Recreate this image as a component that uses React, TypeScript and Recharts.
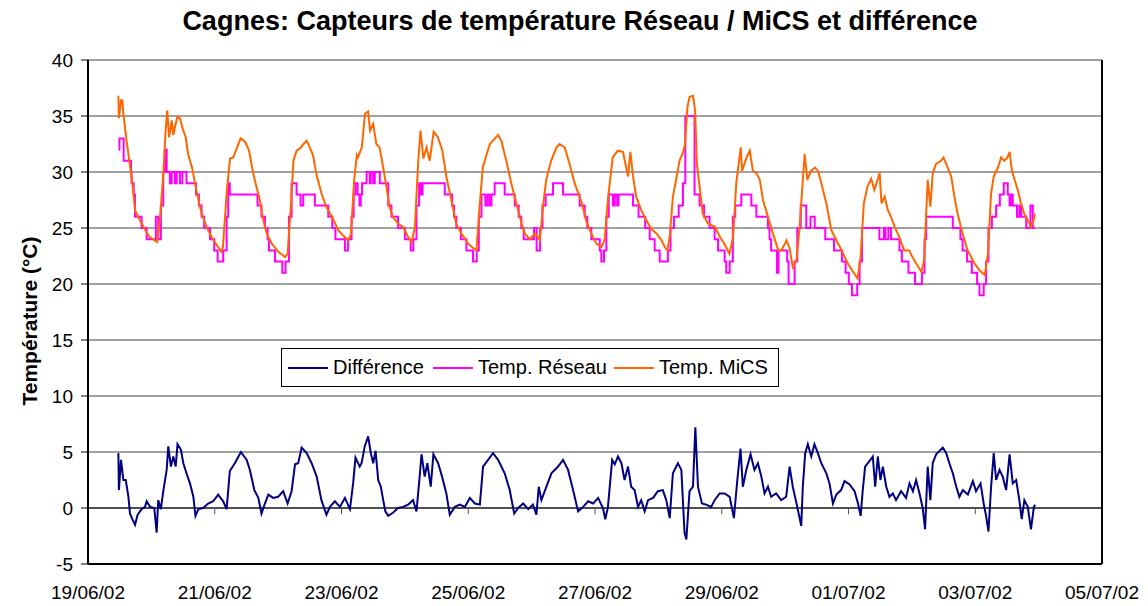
import React from 'react';
import { LineChart, Line, XAxis, YAxis, CartesianGrid, ReferenceLine } from 'recharts';

const xTickLabels = ['19/06/02', '21/06/02', '23/06/02', '25/06/02', '27/06/02', '29/06/02', '01/07/02', '03/07/02', '05/07/02'];
const yTicks = [-5, 0, 5, 10, 15, 20, 25, 30, 35, 40];

// [hours since 19/06/02 00:00, value]
const diffPts: [number, number][] = [
  [11.5, 4.9], [11.7, 1.6], [12.5, 4.3], [13.4, 2.5], [14.3, 2.5], [15.3, 1.0], [15.9, -0.5], [16.8, -1.0], [17.8, -1.5], [18.8, -0.6],
  [20.3, -0.1], [21.6, 0.1], [22.2, 0.6], [23.5, 0.1], [25.1, 0], [26.0, -2.2], [26.6, 0.7], [27.6, -0.1], [28.5, 1.5], [29.8, 3.4],
  [30.4, 5.5], [31.4, 3.7], [32.3, 4.6], [33.2, 3.7], [33.9, 5.7], [35.2, 5.2], [36.1, 4.0], [37.3, 3.1], [38.6, 2.2], [39.9, 1.0],
  [40.7, -0.7], [41.8, -0.1], [43.6, 0], [45.5, 0.4], [47.4, 0.6], [49.3, 1.2], [51.2, 0.6], [52.5, -0.1], [53.7, 3.3], [55.6, 4.0],
  [57.9, 5.0], [60.1, 4.3], [61.3, 3.4], [63.0, 1.6], [64.5, 0.9], [65.7, -0.5], [67.0, 0.4], [68.3, 1.2], [70.1, 0.9], [72.0, 1.0],
  [73.9, 1.5], [75.6, 0.4], [77.1, 1.5], [78.4, 3.9], [79.6, 4.0], [80.9, 5.4], [82.8, 4.9], [84.7, 4.0], [86.6, 2.8], [88.4, 0.7],
  [90.3, -0.6], [91.6, 0.1], [93.5, 0.6], [95.4, 0.1], [97.3, 0.9], [99.2, -0.1], [100.4, 2.2], [101.3, 4.5], [102.9, 3.7], [103.6, 4.0],
  [104.8, 5.5], [106.1, 6.4], [107.1, 4.9], [108.0, 4.0], [108.9, 5.1], [109.9, 2.5], [110.9, 1.9], [111.8, 0.7], [112.6, -0.3], [113.7, -0.7],
  [115.6, -0.4], [117.4, 0], [119.3, 0.1], [121.2, 0.3], [123.1, 0.7], [124.4, -0.3], [125.6, 2.8], [126.3, 4.8], [127.5, 2.8], [128.5, 4.0],
  [129.8, 1.9], [130.8, 4.8], [132.6, 4.0], [134.1, 2.8], [135.7, 1.3], [137.0, -0.6], [138.9, 0.1], [140.8, 0.3], [142.7, 0.1], [144.6, 0.9],
  [146.5, 0.4], [148.4, 0.3], [149.6, 3.7], [151.5, 4.3], [153.4, 4.9], [155.3, 4.3], [157.8, 3.1], [159.7, 1.6], [161.4, -0.5], [162.9, 0],
  [164.8, 0.4], [166.7, -0.1], [168.5, 0.3], [169.8, -0.6], [170.7, 1.9], [171.7, 0.7], [173.6, 1.9], [175.5, 3.1], [178.0, 3.7], [179.9, 4.3],
  [181.8, 3.4], [183.7, 1.6], [185.6, -0.3], [187.5, 0.1], [189.4, 0.6], [191.3, 0.4], [193.2, 0.9], [195.0, 0], [195.9, -1.0], [196.9, 0.1],
  [198.5, 4.3], [199.5, 3.9], [200.7, 4.6], [202.0, 4.0], [203.2, 2.5], [204.5, 3.7], [205.7, 1.9], [207.0, 1.6], [208.3, 0.1], [209.5, 0.7],
  [210.8, -0.3], [212.1, 0.7], [214.0, 0.9], [215.8, 1.5], [217.7, 1.6], [219.0, 0.7], [220.3, -0.9], [221.5, 3.1], [223.4, 4.0], [224.7, 3.4],
  [225.9, -2.2], [226.6, -2.8], [227.8, 1.5], [229.1, 1.9], [230.0, 7.2], [231.0, 1.9], [232.5, 0.4], [234.1, 0.3], [236.0, 0.1], [237.3, 0.7],
  [239.2, 1.3], [241.1, 1.3], [243.0, 1.0], [244.6, -0.9], [245.9, 2.5], [247.1, 5.3], [248.0, 1.9], [249.3, 3.4], [250.9, 4.8], [252.4, 3.4],
  [253.7, 4.0], [255.0, 2.8], [256.2, 1.3], [257.5, 1.9], [258.7, 1.0], [260.6, 1.3], [262.5, 0.7], [264.4, 1.0], [265.7, 3.7], [266.9, 1.9],
  [268.6, 0.1], [270.1, -1.6], [270.7, 1.9], [271.6, 4.9], [272.6, 5.7], [273.9, 4.6], [275.1, 5.7], [276.4, 4.9], [277.7, 4.0], [279.6, 3.1],
  [280.8, 2.2], [282.1, 0.4], [283.4, 1.2], [285.2, 1.6], [286.5, 2.4], [288.4, 2.1], [290.3, 1.5], [291.6, 0.4], [292.6, -0.7], [293.4, 1.6],
  [294.3, 3.7], [296.0, 4.2], [297.2, 4.6], [298.1, 1.9], [299.1, 4.6], [300.1, 2.5], [301.0, 3.7], [302.3, 1.9], [303.5, 1.0], [304.8, 1.3],
  [306.0, 0.7], [307.9, 1.5], [309.8, 0.9], [311.1, 2.2], [312.4, 1.5], [313.6, 2.5], [314.9, 1.3], [316.1, 0], [317.0, -1.9], [318.0, 3.7],
  [319.0, 0.7], [319.9, 4.0], [321.2, 4.8], [323.7, 5.4], [325.0, 4.9], [326.2, 4.0], [327.5, 3.1], [328.8, 1.9], [330.0, 1.0], [331.3, 1.6],
  [333.2, 1.2], [335.1, 2.4], [336.3, 1.5], [338.0, 2.2], [339.2, 0.4], [340.1, -0.7], [341.0, -2.1], [342.0, 1.9], [343.0, 4.9], [343.9, 2.5],
  [345.2, 3.4], [346.4, 2.8], [347.7, 1.6], [349.0, 4.8], [350.2, 2.2], [351.5, 2.5], [352.7, 0.7], [353.6, -1.0], [354.6, 0.7], [355.9, 0.1],
  [357.1, -1.9], [358.2, 0.1], [358.7, 0.3],
];

const reseauPts: [number, number][] = [
  [11.5, 32], [11.9, 33], [13.5, 31], [16.3, 30], [16.5, 29], [17.3, 28], [17.8, 26], [20.3, 25], [22.2, 24], [25.7, 26],
  [26.6, 24], [27.6, 27], [28.5, 30], [29.1, 32], [29.8, 30], [31.0, 29], [31.7, 30], [32.9, 29], [33.6, 30], [34.8, 29],
  [35.7, 30], [37.3, 29], [40.9, 28], [42.0, 27], [43.0, 26], [44.0, 25], [46.2, 24], [47.8, 23], [49.1, 22], [51.2, 23],
  [52.5, 26], [53.1, 29], [53.7, 28], [64.2, 27], [65.7, 26], [67.0, 25], [68.0, 24], [68.5, 23], [70.8, 22], [73.6, 21],
  [74.8, 22], [76.1, 26], [77.1, 29], [79.0, 28], [80.5, 27], [81.5, 28], [85.9, 27], [91.0, 26], [92.5, 25], [93.7, 24],
  [97.3, 23], [98.5, 24], [99.8, 26], [100.6, 28], [101.3, 29], [102.1, 28], [102.8, 27], [103.3, 28], [103.8, 29], [105.5, 30],
  [106.7, 29], [107.1, 30], [108.0, 29], [108.6, 30], [110.5, 29], [113.7, 27], [114.9, 26], [117.4, 25], [120.0, 24], [122.2, 23],
  [123.2, 24], [124.4, 27], [125.4, 29], [126.0, 28], [126.7, 29], [135.1, 28], [137.9, 27], [138.6, 26], [139.5, 25], [141.2, 24],
  [143.3, 23], [145.8, 22], [147.2, 23], [148.0, 26], [149.0, 28], [150.5, 27], [151.3, 28], [152.1, 27], [152.8, 28], [154.0, 29],
  [157.8, 28], [161.6, 27], [163.1, 26], [164.1, 25], [165.0, 24], [168.9, 25], [169.9, 23], [171.2, 25], [172.1, 27], [173.3, 28],
  [176.1, 29], [179.9, 28], [186.2, 27], [188.1, 26], [189.1, 25], [190.6, 24], [193.8, 23], [194.4, 22], [195.4, 23], [196.3, 26],
  [197.2, 28], [198.8, 27], [199.5, 28], [200.4, 27], [200.9, 28], [206.4, 27], [208.5, 26], [211.0, 25], [212.7, 24], [214.6, 23],
  [216.5, 22], [219.6, 23], [220.6, 25], [221.9, 26], [223.7, 27], [225.3, 29], [226.2, 35], [229.7, 28], [231.6, 27], [233.3, 26],
  [235.4, 25], [237.3, 24], [238.6, 23], [241.1, 22], [241.7, 21], [243.0, 22], [244.2, 26], [245.1, 27], [247.4, 28], [251.2, 27],
  [253.1, 26], [257.5, 25], [258.1, 24], [258.7, 23], [260.9, 21], [261.5, 23], [264.8, 22], [265.3, 20], [267.6, 22], [268.6, 25],
  [269.9, 27], [272.0, 25], [273.6, 26], [275.2, 25], [279.2, 24], [282.5, 23], [285.5, 22], [286.9, 21], [288.1, 20], [289.3, 19],
  [291.3, 20], [292.2, 22], [293.1, 25], [299.7, 24], [301.4, 25], [302.0, 24], [303.1, 25], [304.1, 24], [307.3, 23], [308.2, 22],
  [310.7, 21], [313.2, 20], [315.8, 21], [316.8, 24], [317.4, 26], [327.5, 25], [330.4, 24], [331.2, 23], [332.9, 22], [334.7, 21],
  [336.7, 20], [337.6, 19], [339.2, 20], [340.1, 22], [341.0, 25], [342.3, 26], [343.9, 27], [345.3, 28], [346.8, 29], [348.3, 28],
  [349.0, 27], [349.6, 28], [350.2, 27], [351.8, 26], [352.7, 27], [353.4, 26], [355.3, 25], [356.9, 27], [357.8, 25], [358.6, 25],
];

const micsPts: [number, number][] = [
  [11.5, 36.8], [11.7, 34.8], [12.5, 36.4], [13.0, 36.4], [13.4, 35.2], [14.6, 32.8], [15.8, 30.7], [16.8, 29.0], [17.8, 26.6], [19.0, 26.0],
  [20.3, 25.4], [22.2, 24.6], [23.4, 24.2], [25.3, 23.9], [26.2, 23.75], [27.2, 25.7], [28.6, 30.1], [29.4, 33.7], [30.0, 35.5], [30.7, 33.1],
  [31.7, 34.6], [32.3, 33.3], [32.9, 34.0], [33.8, 34.9], [34.8, 34.8], [35.8, 33.9], [37.0, 33.1], [37.9, 31.6], [39.5, 30.3], [41.0, 28.4],
  [43.0, 26.3], [44.9, 25.1], [46.8, 24.2], [48.7, 23.5], [50.4, 22.9], [51.1, 23.3], [52.6, 28.4], [53.8, 31.2], [55.0, 31.3], [56.3, 32.1],
  [57.8, 33.0], [59.5, 32.7], [61.0, 31.9], [61.9, 30.7], [63.1, 29.3], [64.8, 27.8], [66.4, 25.7], [67.7, 24.5], [69.6, 23.6], [72.0, 22.9],
  [74.6, 22.4], [75.6, 22.7], [76.8, 26.9], [77.8, 31.0], [79.0, 31.9], [80.2, 32.1], [81.6, 32.5], [82.8, 32.8], [84.0, 32.2], [85.2, 31.5],
  [86.6, 29.7], [88.4, 28.1], [90.2, 26.9], [92.4, 26.0], [94.8, 24.8], [96.7, 24.3], [98.6, 23.9], [99.6, 24.5], [100.8, 29.3], [101.8, 31.5],
  [102.2, 31.3], [103.7, 32.2], [104.9, 35.2], [106.1, 35.4], [106.8, 33.7], [108.0, 34.3], [109.2, 32.5], [110.4, 32.2], [111.8, 30.4], [113.0, 28.7],
  [114.2, 26.9], [115.4, 26.0], [117.4, 25.4], [119.3, 25.1], [121.2, 24.2], [122.6, 23.75], [123.8, 25.1], [125.0, 30.7], [125.9, 33.7], [127.0, 31.2],
  [128.2, 32.2], [129.4, 31.0], [130.9, 33.6], [132.5, 33.1], [134.2, 31.9], [135.7, 29.6], [137.6, 27.5], [139.4, 25.4], [141.4, 24.5], [144.0, 23.6],
  [145.9, 23.2], [147.1, 23.0], [148.3, 26.9], [149.5, 30.4], [151.0, 31.6], [152.2, 32.5], [154.1, 33.0], [155.3, 33.3], [156.5, 32.8], [158.4, 31.0],
  [160.3, 29.0], [162.2, 27.2], [164.2, 25.4], [165.4, 24.5], [167.3, 24.0], [169.2, 24.5], [170.4, 24.2], [171.1, 23.9], [172.3, 26.9], [173.5, 29.3],
  [175.4, 31.0], [177.4, 32.2], [178.6, 32.5], [180.5, 32.2], [182.4, 30.7], [184.3, 29.0], [187.0, 27.2], [188.6, 25.7], [190.6, 24.5], [192.5, 23.6],
  [194.4, 23.3], [195.6, 23.9], [197.0, 27.8], [198.7, 31.3], [200.6, 31.9], [202.6, 31.8], [203.8, 30.4], [204.5, 29.6], [205.4, 31.8], [206.4, 29.6],
  [207.6, 27.8], [209.5, 26.6], [211.4, 25.7], [213.4, 24.9], [215.3, 24.5], [217.2, 23.9], [218.4, 23.3], [219.4, 23.0], [220.3, 24.2], [221.5, 27.8],
  [222.7, 29.3], [224.0, 31.0], [225.4, 31.8], [226.1, 32.5], [227.0, 35.8], [227.8, 36.7], [229.1, 36.8], [229.9, 35.5], [230.6, 30.7], [231.6, 28.7],
  [232.8, 26.3], [234.7, 25.4], [237.4, 25.1], [239.3, 24.2], [241.0, 23.6], [242.9, 22.7], [244.3, 24.2], [245.5, 29.0], [247.2, 32.2], [247.7, 30.1],
  [249.4, 31.3], [250.6, 31.9], [251.8, 30.1], [253.1, 29.9], [254.4, 29.3], [255.6, 27.5], [257.5, 26.0], [259.4, 24.5], [261.4, 23.0], [262.6, 23.0],
  [264.5, 23.9], [265.7, 23.2], [266.9, 21.5], [268.3, 22.1], [269.5, 25.1], [270.7, 29.3], [271.4, 31.6], [272.4, 29.3], [273.8, 30.1], [275.3, 30.4],
  [276.5, 30.1], [277.7, 29.0], [279.6, 27.2], [281.5, 24.8], [283.4, 23.9], [285.4, 23.0], [287.8, 21.8], [289.7, 21.1], [291.4, 20.5], [292.6, 22.4],
  [293.8, 27.2], [295.2, 28.7], [296.6, 29.4], [297.8, 28.4], [299.8, 29.9], [300.5, 27.2], [301.7, 27.8], [302.9, 26.6], [304.1, 26.0], [305.5, 25.1],
  [307.2, 24.2], [309.1, 23.0], [311.0, 23.0], [312.2, 22.4], [313.7, 21.8], [315.6, 21.1], [316.6, 22.1], [318.0, 29.3], [319.0, 26.9], [319.9, 29.9],
  [321.1, 30.7], [323.0, 31.0], [324.0, 31.3], [325.0, 30.7], [326.9, 29.6], [328.1, 27.8], [329.3, 26.3], [331.2, 24.5], [333.1, 23.0], [335.8, 21.8],
  [337.7, 21.2], [339.6, 20.8], [340.8, 22.7], [342.0, 28.1], [343.0, 29.6], [344.6, 30.4], [345.8, 31.3], [347.0, 31.0], [348.2, 31.3], [349.0, 31.8],
  [349.9, 30.1], [350.9, 29.3], [352.1, 28.4], [353.3, 27.2], [354.5, 26.3], [355.9, 25.7], [357.1, 25.1], [358.1, 25.7], [358.6, 26.3],
];

const series = [
  { key: 'diff', name: 'Différence', color: '#000080', pts: diffPts, curve: 'linear' },
  { key: 'reseau', name: 'Temp. Réseau', color: '#FF00FF', pts: reseauPts, curve: 'stepAfter' },
  { key: 'mics', name: 'Temp. MiCS', color: '#FF6600', pts: micsPts, curve: 'linear' },
];

const HOURS_PER_TICK = 48;
const xTicks = xTickLabels.map((_, i) => i * HOURS_PER_TICK);
const xMax = xTicks[xTicks.length - 1];

const FONT = '"Liberation Sans", Arial, Helvetica, sans-serif';

export default function App() {
  const legendLefts = [6, 151, 332];
  return (
    <div style={{ position: 'absolute', left: 0, top: 0, width: 1148, height: 606, background: '#fff', fontFamily: FONT }}>
      <div style={{ position: 'absolute', left: 0, top: 6, width: 1160, textAlign: 'center', fontSize: 27, fontWeight: 'bold', lineHeight: '30px', color: '#000' }}>
        Cagnes: Capteurs de température Réseau / MiCS et différence
      </div>
      <div style={{ position: 'absolute', left: 30, top: 321, transform: 'translate(-50%, -50%) rotate(-90deg)', whiteSpace: 'nowrap', fontSize: 21, fontWeight: 'bold', color: '#000' }}>
        Température (°C)
      </div>
      <LineChart width={1148} height={606} margin={{ top: 60, right: 46, bottom: 0, left: 0 }} style={{ fontFamily: FONT }}>
        <CartesianGrid vertical={false} stroke="#444" strokeWidth={1} />
        <XAxis
          dataKey="h"
          type="number"
          domain={[0, xMax]}
          ticks={xTicks}
          tickFormatter={(v: number) => xTickLabels[Math.round(v / HOURS_PER_TICK)]}
          height={42}
          tickLine={false}
          tickSize={0}
          tickMargin={22}
          axisLine={{ stroke: '#000', strokeWidth: 2 }}
          tick={{ fill: '#000', fontSize: 19 }}
          allowDataOverflow
        />
        <YAxis
          type="number"
          domain={[-5, 40]}
          ticks={yTicks}
          width={88}
          tickSize={7}
          tickMargin={8}
          axisLine={{ stroke: '#000', strokeWidth: 2 }}
          tickLine={{ stroke: '#000' }}
          tick={{ fill: '#000', fontSize: 19 }}
          allowDataOverflow
        />
        <ReferenceLine y={0} stroke="#000" strokeWidth={1} />
        {xTicks.slice(1, -1).map((t) => (
          <ReferenceLine key={'tk' + t} segment={[{ x: t, y: 0 }, { x: t, y: -0.55 }]} stroke="#555" strokeWidth={1} />
        ))}
        <ReferenceLine x={xMax} stroke="#000" strokeWidth={2} />
        {series.map((s) => (
          <Line
            key={s.key}
            data={s.pts.map(([h, v]) => ({ h, [s.key]: v }))}
            dataKey={s.key}
            name={s.name}
            type={s.curve as any}
            stroke={s.color}
            strokeWidth={2}
            dot={false}
            activeDot={false}
            isAnimationActive={false}
          />
        ))}
      </LineChart>
      <div style={{ position: 'absolute', left: 281, top: 348, width: 498, height: 39, boxSizing: 'border-box', border: '1px solid #000', background: '#fff' }}>
        {series.map((s, i) => (
          <div key={s.key} style={{ position: 'absolute', left: legendLefts[i], top: 0, height: 37, display: 'flex', alignItems: 'center' }}>
            <div style={{ width: 40, height: 0, borderTop: `2px solid ${s.color}` }} />
            <span style={{ marginLeft: 5, fontSize: 20, color: '#000', whiteSpace: 'nowrap' }}>{s.name}</span>
          </div>
        ))}
      </div>
    </div>
  );
}
